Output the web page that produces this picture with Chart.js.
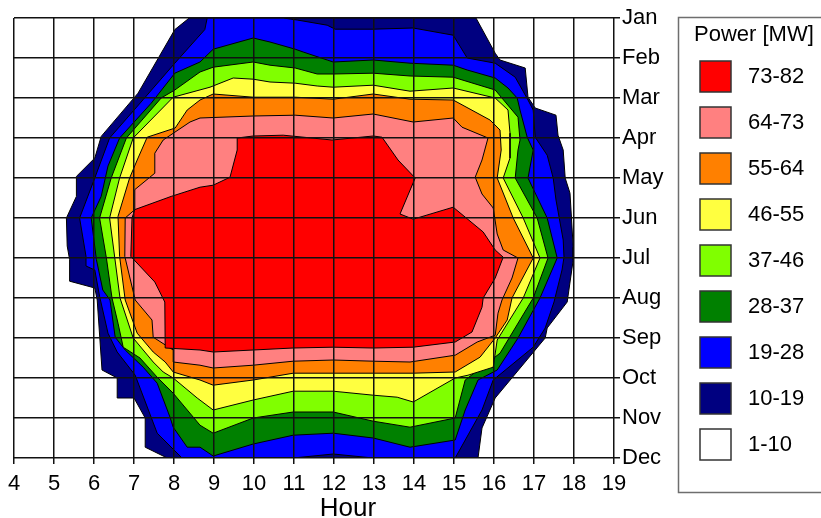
<!DOCTYPE html>
<html>
<head>
<meta charset="utf-8">
<script src="https://cdn.jsdelivr.net/npm/chart.js@4.4.1/dist/chart.umd.min.js"></script>
<style>
  html, body { margin: 0; padding: 0; background: #fff; }
  canvas { display: block; }
</style>
</head>
<body>
<canvas id="js-chart-power" width="821" height="518"></canvas>
<script>
// tick labels
const months = ["Jan", "Feb", "Mar", "Apr", "May", "Jun", "Jul", "Aug", "Sep", "Oct", "Nov", "Dec"];
const rangeLabels = ["73-82", "64-73", "55-64", "46-55", "37-46", "28-37", "19-28", "10-19", "1-10"];
const rangeColors = ["#ff0000", "#ff8080", "#ff8000", "#ffff40", "#80ff00", "#008000", "#0000ff", "#000080", "#ffffff"];

// contour rings: [hour, month index (0 = Jan)]
const ring73 = [[9.58,3.0],[9.98,2.95],[10.73,2.93],[11.95,3.05],[12.98,2.95],[13.2,2.98],[13.6,3.55],[14.03,4.0],[13.65,4.9],[13.98,5.03],[14.98,4.73],[15.73,5.35],[16.03,5.8],[16.23,5.98],[16.03,6.5],[15.73,7.0],[15.7,7.23],[15.45,7.85],[15.03,8.1],[13.98,8.23],[12.98,8.25],[11.98,8.23],[10.98,8.25],[9.98,8.3],[8.98,8.35],[8.65,8.3],[7.78,8.25],[7.77,7.1],[7.52,6.6],[6.92,5.96],[6.95,5.0],[7.02,4.79],[7.93,4.46],[8.65,4.23],[8.98,4.18],[9.4,3.98],[9.58,3.3]];
const ring64 = [[8.65,2.5],[9.98,2.45],[11.03,2.43],[11.98,2.5],[12.98,2.4],[13.98,2.6],[14.98,2.5],[15.2,2.73],[15.85,3.0],[15.7,3.55],[15.53,3.98],[15.7,4.4],[15.98,4.75],[16.08,5.4],[16.23,5.8],[16.6,6.0],[16.45,6.5],[16.2,7.05],[16.1,7.38],[16.03,7.93],[15.58,8.1],[15.03,8.43],[13.9,8.6],[12.98,8.58],[11.98,8.55],[10.98,8.58],[9.98,8.68],[8.98,8.75],[8.65,8.68],[7.98,8.6],[7.98,8.3],[7.48,7.98],[7.45,7.55],[7.03,7.05],[6.77,5.96],[6.78,5.0],[7.02,4.79],[7.02,4.29],[7.52,3.88],[7.52,3.38],[7.73,3.05],[8.4,2.6]];
const ring55 = [[8.65,2.05],[8.98,1.9],[9.98,1.98],[11.03,1.98],[11.98,2.03],[12.98,1.9],[13.9,2.03],[14.98,2.05],[15.9,2.55],[16.15,2.8],[16.18,3.3],[16.08,4.0],[16.48,5.0],[16.98,6.0],[16.45,7.0],[16.33,7.55],[16.03,8.0],[15.65,8.48],[15.03,8.85],[13.98,8.88],[12.98,8.88],[11.98,8.88],[10.98,8.88],[9.98,9.05],[8.98,9.18],[8.65,9.05],[7.98,8.85],[7.78,8.6],[7.48,8.35],[7.08,7.88],[6.78,7.05],[6.64,5.96],[6.6,4.96],[6.89,4.0],[7.08,3.55],[7.33,2.98],[8.03,2.75],[8.33,2.3]];
const ring46 = [[8.9,1.73],[9.48,1.5],[9.98,1.53],[10.4,1.6],[11.03,1.63],[11.58,1.7],[11.98,1.73],[12.98,1.68],[13.9,1.83],[14.98,1.75],[16.03,2.0],[16.35,2.3],[16.4,2.88],[16.4,3.5],[16.23,4.0],[16.73,5.0],[17.15,6.0],[16.73,7.0],[16.08,8.05],[15.98,8.73],[15.35,8.93],[15.03,9.0],[13.98,9.6],[13.58,9.48],[12.98,9.43],[11.98,9.33],[10.98,9.33],[9.98,9.55],[8.98,9.8],[8.58,9.5],[7.98,9.0],[7.73,8.85],[7.48,8.6],[6.98,8.0],[6.65,7.0],[6.52,6.0],[6.39,5.0],[6.64,4.0],[6.98,3.0],[7.98,1.98]];
const ring37 = [[8.65,1.35],[8.98,1.23],[9.98,1.1],[10.4,1.18],[11.03,1.25],[11.58,1.4],[11.98,1.4],[12.98,1.38],[13.9,1.45],[14.98,1.48],[16.03,1.8],[16.6,2.48],[16.65,3.05],[16.6,3.3],[16.53,4.0],[17.08,5.0],[17.35,6.0],[16.98,7.0],[16.15,8.38],[15.28,9.05],[15.03,10.0],[13.9,10.23],[12.98,10.08],[11.98,9.85],[10.98,9.85],[9.98,10.0],[8.98,10.38],[8.65,10.18],[7.98,9.38],[7.58,8.98],[7.15,8.5],[6.73,8.23],[6.6,7.63],[6.45,7.0],[6.31,6.0],[6.14,5.0],[6.43,4.0],[6.81,3.0],[7.68,2.0],[8.02,1.8]];
const ring28 = [[8.98,0.78],[9.98,0.5],[10.4,0.6],[11.03,0.78],[11.23,0.85],[11.83,1.05],[11.98,1.1],[12.98,1.05],[13.9,1.13],[14.98,1.18],[15.33,1.3],[16.03,1.5],[16.35,1.75],[16.58,2.0],[16.65,2.3],[16.83,2.98],[16.98,3.3],[16.85,4.0],[17.33,5.0],[17.58,6.0],[17.15,7.0],[16.6,8.0],[16.08,8.8],[15.6,9.05],[15.28,9.8],[15.03,10.55],[13.9,10.73],[12.98,10.5],[11.98,10.38],[10.98,10.43],[9.98,10.65],[8.98,10.95],[8.65,10.73],[8.33,10.73],[7.98,10.23],[7.9,9.98],[7.58,9.13],[7.23,8.73],[6.78,8.3],[6.53,7.98],[6.4,7.05],[6.22,6.8],[6.06,6.04],[5.93,5.0],[6.18,4.46],[6.35,3.7],[6.64,3.0],[7.43,2.13],[8.02,1.38],[8.65,1.1]];
const ring19 = [[8.83,0],[10.73,0],[11.08,0.05],[11.83,0.18],[12.03,0.28],[12.98,0.28],[13.98,0.25],[14.98,0.43],[15.33,1.0],[16.03,1.13],[16.53,1.48],[16.85,2.05],[16.98,2.3],[17.03,2.98],[17.33,3.43],[17.48,4.0],[17.55,4.55],[17.73,5.55],[17.75,5.98],[17.7,6.3],[17.5,7.1],[17.28,7.75],[16.98,8.23],[15.98,9.05],[15.7,9.8],[15.03,11],[12.98,11],[11.98,10.9],[10.98,11],[8.2,11],[7.58,10.38],[7.03,8.93],[6.58,8.35],[6.35,7.88],[6.14,6.96],[6.02,6.3],[5.8,6.2],[5.8,5.96],[5.64,5.0],[6.02,4.0],[6.39,3.0],[7.23,2.04],[8.02,1.13],[8.77,0.29]];
const ring10 = [[8.38,0],[15.55,0],[16.03,0.88],[16.15,1.05],[16.78,1.25],[16.85,1.98],[17.03,2.25],[17.55,2.43],[17.6,2.93],[17.73,3.3],[17.78,4.0],[17.9,4.38],[17.98,5.73],[17.98,6.05],[17.83,7.1],[17.33,7.75],[17.28,8.0],[16.03,9.5],[15.7,10.25],[15.6,11],[7.83,11],[7.28,10.73],[7.28,10.0],[7.0,9.5],[6.58,9.5],[6.58,9.0],[6.2,8.8],[6.08,7.05],[6.02,6.75],[5.39,6.58],[5.39,6.04],[5.33,5.7],[5.31,5.0],[5.56,4.46],[5.56,3.96],[6.02,3.5],[6.18,2.96],[7.1,1.88],[8.02,0.29]];

const rings = [ring73, ring64, ring55, ring46, ring37, ring28, ring19, ring10];

const FONT = "'Liberation Sans', Arial, sans-serif";

// legend box + axis title, drawn on top
const powerLegend = {
    id: "powerLegend",
    afterDraw(chart) {
        const ctx = chart.ctx;
        ctx.save();
        ctx.strokeStyle = "#6e6e6e";
        ctx.lineWidth = 1.5;
        ctx.strokeRect(678.5, 17.5, 160, 475);
        ctx.fillStyle = "#000";
        ctx.font = "22px " + FONT;
        ctx.textAlign = "left";
        ctx.textBaseline = "middle";
        ctx.fillText("Power [MW]", 694, 35);
        rangeLabels.forEach((lbl, i) => {
            const top = 61 + i * 46;
            ctx.fillStyle = rangeColors[i];
            ctx.fillRect(700, top, 31, 31);
            ctx.strokeStyle = "#333";
            ctx.lineWidth = 1.5;
            ctx.strokeRect(700, top, 31, 31);
            ctx.fillStyle = "#000";
            ctx.fillText(lbl, 748, top + 16);
        });
        ctx.font = "26px " + FONT;
        ctx.textAlign = "center";
        ctx.textBaseline = "alphabetic";
        ctx.fillText("Hour", 348, 516);
        ctx.restore();
    }
};

let chart, options, data, el = document.getElementById("js-chart-power");

data = {
    datasets: rings.map((r, i) => ({
        label: rangeLabels[i],
        data: r.concat([r[0]]).map(p => ({x: p[0], y: p[1]})),
        backgroundColor: rangeColors[i],
        borderColor: "#000",
        borderWidth: 1,
        fill: "shape",
        tension: 0,
        pointRadius: 0,
        pointHoverRadius: 0
    }))
};

options = {
    responsive: false,
    animation: false,
    events: [],
    layout: {
        padding: {left: 14, top: 18, right: 147, bottom: 0}
    },
    scales: {
        x: {
            type: "linear",
            min: 4,
            max: 19,
            afterFit: s => { s.height = 60; },
            ticks: {stepSize: 1, color: "#000", padding: 7, font: {family: FONT, size: 22}},
            grid: {color: "#111", lineWidth: 1.5, tickLength: 6, z: 1},
            border: {display: false}
        },
        y: {
            type: "linear",
            position: "right",
            reverse: true,
            min: 0,
            max: 11,
            afterFit: s => { s.width = 60; },
            ticks: {
                stepSize: 1,
                color: "#000",
                padding: 2,
                font: {family: FONT, size: 22},
                callback: v => months[v]
            },
            grid: {color: "#111", lineWidth: 1.5, tickLength: 6, z: 1},
            border: {display: false}
        }
    },
    plugins: {
        legend: {display: false},
        tooltip: {enabled: false}
    }
};

chart = new Chart(el, {type: "line", data: data, options: options, plugins: [powerLegend]});
</script>
</body>
</html>
